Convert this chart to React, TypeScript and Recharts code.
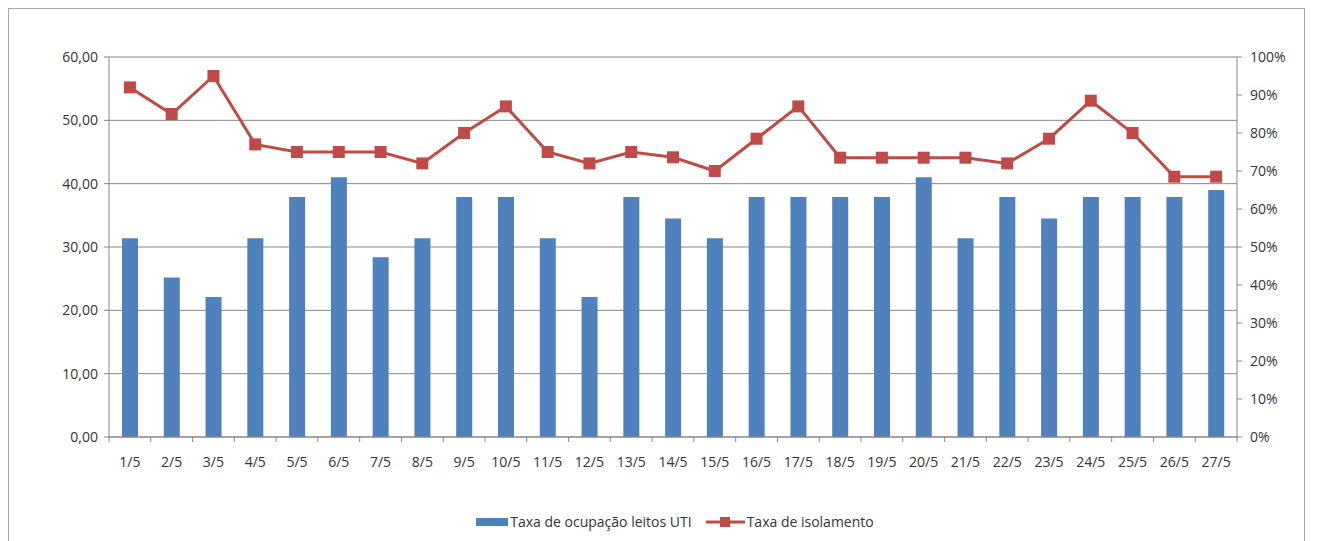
import React from 'react'
import { ComposedChart, Bar, Line, XAxis, YAxis, CartesianGrid, Legend } from 'recharts'

const dias = [
  '1/5', '2/5', '3/5', '4/5', '5/5', '6/5', '7/5', '8/5', '9/5', '10/5', '11/5', '12/5', '13/5', '14/5',
  '15/5', '16/5', '17/5', '18/5', '19/5', '20/5', '21/5', '22/5', '23/5', '24/5', '25/5', '26/5', '27/5',
]

const ocupacaoUTI = [
  31.4, 25.2, 22.1, 31.4, 37.9, 41.0, 28.4, 31.4, 37.9, 37.9, 31.4, 22.1, 37.9, 34.5,
  31.4, 37.9, 37.9, 37.9, 37.9, 41.0, 31.4, 37.9, 34.5, 37.9, 37.9, 37.9, 39.0,
]

const isolamento = [
  0.92, 0.85, 0.95, 0.77, 0.75, 0.75, 0.75, 0.72, 0.80, 0.87, 0.75, 0.72, 0.75, 0.736,
  0.70, 0.785, 0.87, 0.735, 0.735, 0.735, 0.735, 0.72, 0.785, 0.885, 0.80, 0.685, 0.685,
]

const ticksEsq = [0, 10, 20, 30, 40, 50, 60]
const ticksDir = [0, 0.1, 0.2, 0.3, 0.4, 0.5, 0.6, 0.7, 0.8, 0.9, 1]

const data = dias.map((d, i) => ({ dia: d, uti: ocupacaoUTI[i], iso: isolamento[i] }))

const AZUL = '#4f81bd'
const VERMELHO = '#be4b48'
const EIXO = '#868686'
const FONTE = '"Open Sans", sans-serif'

const W = 1295
const H = 530
const M = { top: 48, right: 7, bottom: 53, left: 40 }
const YW = 60
const plotW = W - M.left - M.right - YW * 2
const banda = plotW / dias.length

const Quadrado = (props: any) => {
  const { cx, cy } = props
  if (cx == null || cy == null) return null
  return <rect x={cx - 6} y={cy - 6} width={12} height={12} fill={VERMELHO} />
}

const TickX = (props: any) => {
  const { x, y, payload, index } = props
  return (
    <g>
      <line x1={x - banda / 2} x2={x - banda / 2} y1={y - 8} y2={y - 3} stroke={EIXO} />
      {index === dias.length - 1 && (
        <line x1={x + banda / 2} x2={x + banda / 2} y1={y - 8} y2={y - 3} stroke={EIXO} />
      )}
      <text x={x} y={y + 22} textAnchor="middle" fontSize={14} fill="#333" fontFamily={FONTE}>
        {payload.value}
      </text>
    </g>
  )
}

const Legenda = () => (
  <div style={{ display: 'flex', justifyContent: 'center', gap: 6, fontFamily: FONTE, fontSize: 14, color: '#333', paddingLeft: 4 }}>
    <span style={{ display: 'flex', alignItems: 'center' }}>
      <svg width={32} height={8} style={{ marginRight: 2 }}>
        <rect x={0} y={0} width={32} height={8} fill={AZUL} />
      </svg>
      Taxa de ocupação leitos UTI
    </span>
    <span style={{ display: 'flex', alignItems: 'center' }}>
      <svg width={47} height={12} style={{ marginRight: 2 }}>
        <line x1={8} x2={47} y1={6} y2={6} stroke={VERMELHO} strokeWidth={3} />
        <rect x={22} y={1} width={10} height={10} fill={VERMELHO} />
      </svg>
      Taxa de isolamento
    </span>
  </div>
)

export default function App() {
  return (
    <div style={{ width: W, height: 540, border: '1px solid #a6a6a6', background: '#fff' }}>
      <ComposedChart width={W} height={H} data={data} margin={M} barSize={16}>
        <CartesianGrid vertical={false} yAxisId="esq" stroke={EIXO} />
        <XAxis
          dataKey="dia"
          interval={0}
          tickLine={false}
          stroke={EIXO}
          height={30}
          tick={<TickX />}
        />
        <YAxis
          yAxisId="esq"
          domain={[0, 60]}
          ticks={ticksEsq}
          width={YW}
          stroke={EIXO}
          tickSize={5}
          tickMargin={6}
          tick={{ fill: '#333', fontSize: 14, fontFamily: FONTE }}
          tickFormatter={(v: number) => v.toFixed(2).replace('.', ',')}
        />
        <YAxis
          yAxisId="dir"
          orientation="right"
          domain={[0, 1]}
          ticks={ticksDir}
          width={YW}
          stroke={EIXO}
          tickSize={5}
          tickMargin={8}
          tick={{ fill: '#333', fontSize: 14, fontFamily: FONTE, textAnchor: 'start' }}
          tickFormatter={(v: number) => `${Math.round(v * 100)}%`}
        />
        <Bar yAxisId="esq" dataKey="uti" fill={AZUL} isAnimationActive={false} />
        <Line
          yAxisId="dir"
          dataKey="iso"
          stroke={VERMELHO}
          strokeWidth={3}
          dot={<Quadrado />}
          activeDot={false}
          isAnimationActive={false}
        />
        <Legend verticalAlign="bottom" wrapperStyle={{ bottom: 8 }} content={<Legenda />} />
      </ComposedChart>
    </div>
  )
}
